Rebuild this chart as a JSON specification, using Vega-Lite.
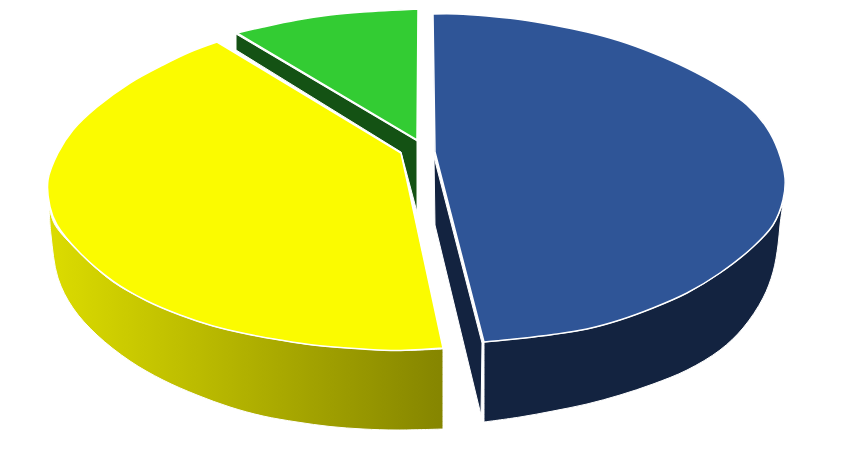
{
  "$schema": "https://vega.github.io/schema/vega-lite/v6.json",
  "width": 845,
  "height": 450,
  "padding": 0,
  "autosize": {"type": "fit", "contains": "padding"},
  "background": "white",
  "view": {"stroke": null},
  "datasets": {
    "slices": [
      {"part": "blue_inner", "seq": 1, "x": 434, "y": 157},
      {"part": "blue_inner", "seq": 2, "x": 435, "y": 225},
      {"part": "blue_inner", "seq": 3, "x": 481, "y": 415},
      {"part": "blue_inner", "seq": 4, "x": 482, "y": 343},
      {"part": "blue_inner", "seq": 5, "x": 434, "y": 157},

      {"part": "blue_wall", "seq": 1, "x": 484, "y": 342},
      {"part": "blue_wall", "seq": 2, "x": 520, "y": 338.5},
      {"part": "blue_wall", "seq": 3, "x": 553, "y": 334.5},
      {"part": "blue_wall", "seq": 4, "x": 587, "y": 329},
      {"part": "blue_wall", "seq": 5, "x": 620, "y": 320},
      {"part": "blue_wall", "seq": 6, "x": 653, "y": 308},
      {"part": "blue_wall", "seq": 7, "x": 687, "y": 293},
      {"part": "blue_wall", "seq": 8, "x": 720, "y": 273},
      {"part": "blue_wall", "seq": 9, "x": 753, "y": 247},
      {"part": "blue_wall", "seq": 10, "x": 773, "y": 225},
      {"part": "blue_wall", "seq": 11, "x": 783, "y": 203},
      {"part": "blue_wall", "seq": 12, "x": 783, "y": 203},
      {"part": "blue_wall", "seq": 13, "x": 780, "y": 225},
      {"part": "blue_wall", "seq": 14, "x": 778, "y": 245},
      {"part": "blue_wall", "seq": 15, "x": 773, "y": 272},
      {"part": "blue_wall", "seq": 16, "x": 763, "y": 298},
      {"part": "blue_wall", "seq": 17, "x": 743, "y": 328},
      {"part": "blue_wall", "seq": 18, "x": 720, "y": 350},
      {"part": "blue_wall", "seq": 19, "x": 687, "y": 370},
      {"part": "blue_wall", "seq": 20, "x": 653, "y": 384},
      {"part": "blue_wall", "seq": 21, "x": 620, "y": 395},
      {"part": "blue_wall", "seq": 22, "x": 587, "y": 404},
      {"part": "blue_wall", "seq": 23, "x": 553, "y": 411},
      {"part": "blue_wall", "seq": 24, "x": 520, "y": 417},
      {"part": "blue_wall", "seq": 25, "x": 484, "y": 422},
      {"part": "blue_wall", "seq": 26, "x": 484, "y": 422},
      {"part": "blue_wall", "seq": 27, "x": 484, "y": 342},

      {"part": "blue_top", "seq": 1, "x": 433, "y": 14},
      {"part": "blue_top", "seq": 2, "x": 457, "y": 14},
      {"part": "blue_top", "seq": 3, "x": 487, "y": 16},
      {"part": "blue_top", "seq": 4, "x": 520, "y": 19.5},
      {"part": "blue_top", "seq": 5, "x": 553, "y": 25},
      {"part": "blue_top", "seq": 6, "x": 587, "y": 32},
      {"part": "blue_top", "seq": 7, "x": 620, "y": 41},
      {"part": "blue_top", "seq": 8, "x": 653, "y": 53},
      {"part": "blue_top", "seq": 9, "x": 687, "y": 68},
      {"part": "blue_top", "seq": 10, "x": 720, "y": 86},
      {"part": "blue_top", "seq": 11, "x": 747, "y": 105},
      {"part": "blue_top", "seq": 12, "x": 767, "y": 128},
      {"part": "blue_top", "seq": 13, "x": 778, "y": 150},
      {"part": "blue_top", "seq": 14, "x": 785, "y": 178},
      {"part": "blue_top", "seq": 15, "x": 783, "y": 200},
      {"part": "blue_top", "seq": 16, "x": 773, "y": 225},
      {"part": "blue_top", "seq": 17, "x": 753, "y": 247},
      {"part": "blue_top", "seq": 18, "x": 720, "y": 273},
      {"part": "blue_top", "seq": 19, "x": 687, "y": 293},
      {"part": "blue_top", "seq": 20, "x": 653, "y": 308},
      {"part": "blue_top", "seq": 21, "x": 620, "y": 320},
      {"part": "blue_top", "seq": 22, "x": 587, "y": 329},
      {"part": "blue_top", "seq": 23, "x": 553, "y": 334.5},
      {"part": "blue_top", "seq": 24, "x": 520, "y": 338.5},
      {"part": "blue_top", "seq": 25, "x": 484, "y": 342},
      {"part": "blue_top", "seq": 26, "x": 484, "y": 342},
      {"part": "blue_top", "seq": 27, "x": 435, "y": 152},
      {"part": "blue_top", "seq": 28, "x": 435, "y": 152},
      {"part": "blue_top", "seq": 29, "x": 433, "y": 14},

      {"part": "green_wall", "seq": 1, "x": 236, "y": 34},
      {"part": "green_wall", "seq": 2, "x": 236, "y": 50},
      {"part": "green_wall", "seq": 3, "x": 401, "y": 152},
      {"part": "green_wall", "seq": 4, "x": 417, "y": 212},
      {"part": "green_wall", "seq": 5, "x": 417, "y": 141},
      {"part": "green_wall", "seq": 6, "x": 236, "y": 34},

      {"part": "green_top", "seq": 1, "x": 418, "y": 9},
      {"part": "green_top", "seq": 2, "x": 363, "y": 12},
      {"part": "green_top", "seq": 3, "x": 330, "y": 15},
      {"part": "green_top", "seq": 4, "x": 297, "y": 20},
      {"part": "green_top", "seq": 5, "x": 263, "y": 27},
      {"part": "green_top", "seq": 6, "x": 237, "y": 33},
      {"part": "green_top", "seq": 7, "x": 237, "y": 33},
      {"part": "green_top", "seq": 8, "x": 417, "y": 140},
      {"part": "green_top", "seq": 9, "x": 417, "y": 140},
      {"part": "green_top", "seq": 10, "x": 418, "y": 9},

      {"part": "yellow_wall", "seq": 1, "x": 49, "y": 207},
      {"part": "yellow_wall", "seq": 2, "x": 55, "y": 225},
      {"part": "yellow_wall", "seq": 3, "x": 80, "y": 253},
      {"part": "yellow_wall", "seq": 4, "x": 113, "y": 282},
      {"part": "yellow_wall", "seq": 5, "x": 147, "y": 301},
      {"part": "yellow_wall", "seq": 6, "x": 180, "y": 315},
      {"part": "yellow_wall", "seq": 7, "x": 213, "y": 326},
      {"part": "yellow_wall", "seq": 8, "x": 247, "y": 334},
      {"part": "yellow_wall", "seq": 9, "x": 280, "y": 340},
      {"part": "yellow_wall", "seq": 10, "x": 313, "y": 345},
      {"part": "yellow_wall", "seq": 11, "x": 363, "y": 349},
      {"part": "yellow_wall", "seq": 12, "x": 397, "y": 350.5},
      {"part": "yellow_wall", "seq": 13, "x": 443, "y": 349},
      {"part": "yellow_wall", "seq": 14, "x": 443, "y": 349},
      {"part": "yellow_wall", "seq": 15, "x": 443, "y": 429},
      {"part": "yellow_wall", "seq": 16, "x": 443, "y": 429},
      {"part": "yellow_wall", "seq": 17, "x": 397, "y": 430},
      {"part": "yellow_wall", "seq": 18, "x": 363, "y": 429},
      {"part": "yellow_wall", "seq": 19, "x": 330, "y": 426.5},
      {"part": "yellow_wall", "seq": 20, "x": 297, "y": 422},
      {"part": "yellow_wall", "seq": 21, "x": 263, "y": 416},
      {"part": "yellow_wall", "seq": 22, "x": 230, "y": 407},
      {"part": "yellow_wall", "seq": 23, "x": 197, "y": 395},
      {"part": "yellow_wall", "seq": 24, "x": 163, "y": 380},
      {"part": "yellow_wall", "seq": 25, "x": 130, "y": 361},
      {"part": "yellow_wall", "seq": 26, "x": 97, "y": 335},
      {"part": "yellow_wall", "seq": 27, "x": 73, "y": 308},
      {"part": "yellow_wall", "seq": 28, "x": 58, "y": 278},
      {"part": "yellow_wall", "seq": 29, "x": 51, "y": 235},
      {"part": "yellow_wall", "seq": 30, "x": 49, "y": 207},

      {"part": "yellow_top", "seq": 1, "x": 217, "y": 42},
      {"part": "yellow_top", "seq": 2, "x": 190, "y": 52},
      {"part": "yellow_top", "seq": 3, "x": 163, "y": 65},
      {"part": "yellow_top", "seq": 4, "x": 130, "y": 83},
      {"part": "yellow_top", "seq": 5, "x": 97, "y": 107},
      {"part": "yellow_top", "seq": 6, "x": 73, "y": 130},
      {"part": "yellow_top", "seq": 7, "x": 58, "y": 153},
      {"part": "yellow_top", "seq": 8, "x": 48, "y": 180},
      {"part": "yellow_top", "seq": 9, "x": 50, "y": 207},
      {"part": "yellow_top", "seq": 10, "x": 57, "y": 225},
      {"part": "yellow_top", "seq": 11, "x": 80, "y": 253},
      {"part": "yellow_top", "seq": 12, "x": 113, "y": 281},
      {"part": "yellow_top", "seq": 13, "x": 147, "y": 301},
      {"part": "yellow_top", "seq": 14, "x": 180, "y": 315},
      {"part": "yellow_top", "seq": 15, "x": 213, "y": 326},
      {"part": "yellow_top", "seq": 16, "x": 247, "y": 334},
      {"part": "yellow_top", "seq": 17, "x": 280, "y": 340},
      {"part": "yellow_top", "seq": 18, "x": 313, "y": 345},
      {"part": "yellow_top", "seq": 19, "x": 363, "y": 349},
      {"part": "yellow_top", "seq": 20, "x": 397, "y": 350.5},
      {"part": "yellow_top", "seq": 21, "x": 443, "y": 348},
      {"part": "yellow_top", "seq": 22, "x": 443, "y": 348},
      {"part": "yellow_top", "seq": 23, "x": 401, "y": 153},
      {"part": "yellow_top", "seq": 24, "x": 401, "y": 153},
      {"part": "yellow_top", "seq": 25, "x": 217, "y": 42}
    ]
  },
  "data": {"name": "slices"},
  "encoding": {
    "x": {"field": "x", "type": "quantitative", "scale": {"domain": [0, 845], "nice": false, "zero": false}, "axis": null},
    "y": {"field": "y", "type": "quantitative", "scale": {"domain": [450, 0], "nice": false, "zero": false}, "axis": null},
    "order": {"field": "seq", "type": "quantitative"}
  },
  "layer": [
    {
      "transform": [{"filter": "datum.part == 'blue_inner'"}],
      "mark": {"type": "line", "fill": "#132340", "stroke": "white", "strokeWidth": 1}
    },
    {
      "transform": [{"filter": "datum.part == 'blue_wall'"}],
      "mark": {"type": "line", "interpolate": "catmull-rom", "fill": "#132340", "stroke": "white", "strokeWidth": 1}
    },
    {
      "transform": [{"filter": "datum.part == 'blue_top'"}],
      "mark": {"type": "line", "interpolate": "catmull-rom", "fill": "#2f5597", "stroke": "white", "strokeWidth": 1.5}
    },
    {
      "transform": [{"filter": "datum.part == 'green_wall'"}],
      "mark": {"type": "line", "fill": "#145214", "stroke": "white", "strokeWidth": 1}
    },
    {
      "transform": [{"filter": "datum.part == 'green_top'"}],
      "mark": {"type": "line", "interpolate": "catmull-rom", "fill": "#33cc33", "stroke": "white", "strokeWidth": 1.5}
    },
    {
      "transform": [{"filter": "datum.part == 'yellow_wall'"}],
      "mark": {
        "type": "line",
        "interpolate": "catmull-rom",
        "stroke": "white",
        "strokeWidth": 1,
        "fill": {
          "gradient": "linear",
          "x1": 0, "y1": 0, "x2": 1, "y2": 0,
          "stops": [
            {"offset": 0, "color": "#dcdc00"},
            {"offset": 1, "color": "#858500"}
          ]
        }
      }
    },
    {
      "transform": [{"filter": "datum.part == 'yellow_top'"}],
      "mark": {"type": "line", "interpolate": "catmull-rom", "fill": "#fbfb00", "stroke": "white", "strokeWidth": 1.5}
    }
  ]
}
